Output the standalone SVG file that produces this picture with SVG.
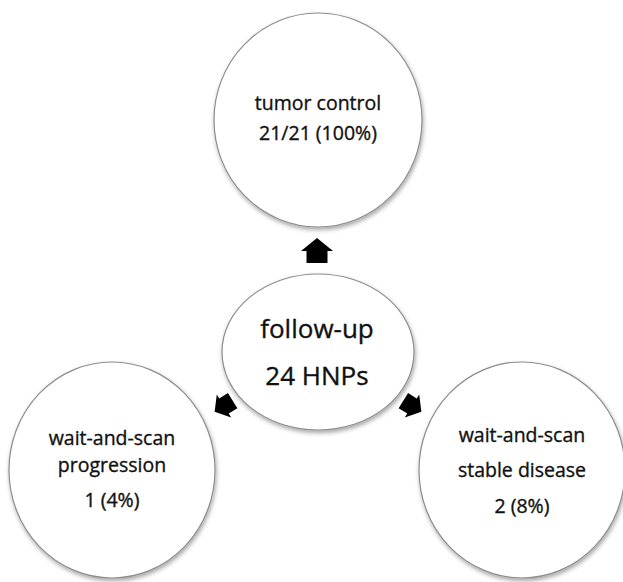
<svg xmlns="http://www.w3.org/2000/svg" width="623" height="582" viewBox="0 0 623 582">
  <defs>
    <filter id="shadow" x="-10%" y="-10%" width="125%" height="125%">
      <feDropShadow dx="1" dy="2.5" stdDeviation="2" flood-color="#000" flood-opacity="0.35"/>
    </filter>
    <!-- block arrow pointing up, centred on the origin -->
    <path id="blockArrow" d="M0,-13 L16,0 L10.5,0 L10.5,12 L-10.5,12 L-10.5,0 L-16,0 Z"/>
  </defs>
  <style>
    .node ellipse { fill: #ffffff; stroke: #8c8c8c; stroke-width: 1.2; filter: url(#shadow); }
    .label { font-family: "Open Sans", "Noto Sans", sans-serif; fill: #111; stroke: #111; stroke-width: 0.35; text-anchor: middle; }
    .small { font-size: 19.5px; }
    .big { font-size: 26px; }
    .arrow { fill: #000; }
  </style>
  <rect width="623" height="582" fill="#ffffff"/>

  <g id="node-tumor-control" class="node">
    <ellipse cx="318" cy="120" rx="104" ry="107"/>
    <text class="label small" x="318" y="110">tumor control</text>
    <text class="label small" x="318" y="140">21/21 (100%)</text>
  </g>

  <g id="node-follow-up" class="node">
    <ellipse cx="318" cy="352" rx="96" ry="78"/>
    <text class="label big" x="317" y="338">follow-up</text>
    <text class="label big" x="317" y="385">24 HNPs</text>
  </g>

  <g id="node-progression" class="node">
    <ellipse cx="112" cy="470" rx="103" ry="108"/>
    <text class="label small" x="112" y="445">wait-and-scan</text>
    <text class="label small" x="112" y="472">progression</text>
    <text class="label small" x="112" y="507">1 (4%)</text>
  </g>

  <g id="node-stable" class="node">
    <ellipse cx="522" cy="470" rx="103" ry="108"/>
    <text class="label small" x="522" y="442">wait-and-scan</text>
    <text class="label small" x="522" y="477">stable disease</text>
    <text class="label small" x="522" y="513">2 (8%)</text>
  </g>

  <g id="connectors" class="arrow">
    <use href="#blockArrow" transform="translate(317,251)"/>
    <use href="#blockArrow" transform="translate(224,406) rotate(-122) scale(0.85)"/>
    <use href="#blockArrow" transform="translate(412,406) rotate(122) scale(0.85)"/>
  </g>
</svg>
